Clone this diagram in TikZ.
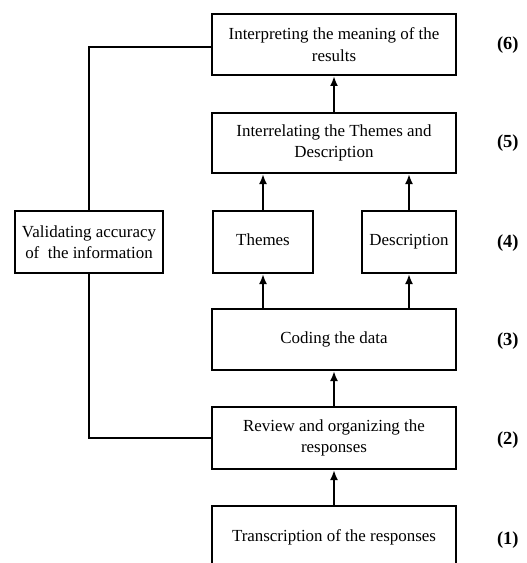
\documentclass[tikz,border=0pt]{standalone}
\usepackage{fontspec}
\setmainfont{Liberation Serif}
\usetikzlibrary{arrows.meta}

\begin{document}
\begin{tikzpicture}[x=1bp,y=-1bp,
	>={Latex[length=10bp,width=8bp]},
	line width=2bp,
	every node/.style={font=\fontsize{17}{21.5}\selectfont},
	stage/.style={
		draw,
		%line width=1.5pt,
		align=center,
		minimum width=244bp,
		minimum height=61bp,
		inner sep=2pt,
	},
	smallstage/.style={stage,minimum width=100bp,minimum height=62bp,text height=11.5pt,text depth=3.5pt},
	num/.style={anchor=west,inner sep=0pt,font=\fontsize{18.5}{22}\selectfont\bfseries},
]
	\useasboundingbox (0,0) rectangle (527,563);
	% main column of steps
	\node[stage] (interpret) at (334,44.5) {Interpreting the meaning of the\\results};
	\node[stage,minimum height=60bp] (interrel) at (334,143) {Interrelating the Themes and\\Description};
	\node[smallstage] (themes) at (263,242) {Themes};
	\node[smallstage,minimum width=94bp] (descr) at (409,242) {Description};
	\node[stage] (coding) at (334,339.5) {Coding the data};
	\node[stage,minimum height=62bp] (review) at (334,438) {Review and organizing the\\responses};
	\node[stage,minimum height=62bp] (transcr) at (334,537) {Transcription of the responses};
	\node[stage,minimum width=148bp,minimum height=62bp] (valid) at (89,242)
		{Validating accuracy\\of\ \ the information};
	% step numbers
	\node[num] (n6) at (496,45.5) {(6)};
	\node[num] (n5) at (496,143) {(5)};
	\node[num] (n4) at (496,243) {(4)};
	\node[num] (n3) at (496,341) {(3)};
	\node[num] (n2) at (496,440) {(2)};
	\node[num] (n1) at (496,540) {(1)};
	% arrows between steps
	\draw[->] (transcr.north) -- (review.south);
	\draw[->] (review.north) -- (coding.south);
	\foreach \b in {themes,descr}{
		\draw[->] (\b.south |- coding.north) -- (\b.south);
		\draw[->] (\b.north) -- (\b.north |- interrel.south);
	}
	\draw[->] (interrel.north) -- (interpret.south);
	% validation loop
	\draw (review.west) -- (valid.south |- review.west) -- (valid.south);
	\draw (valid.north) -- ([yshift=-2.5bp]valid.north |- interpret.west) -- ([yshift=-2.5bp]interpret.west);
\end{tikzpicture}
\end{document}
